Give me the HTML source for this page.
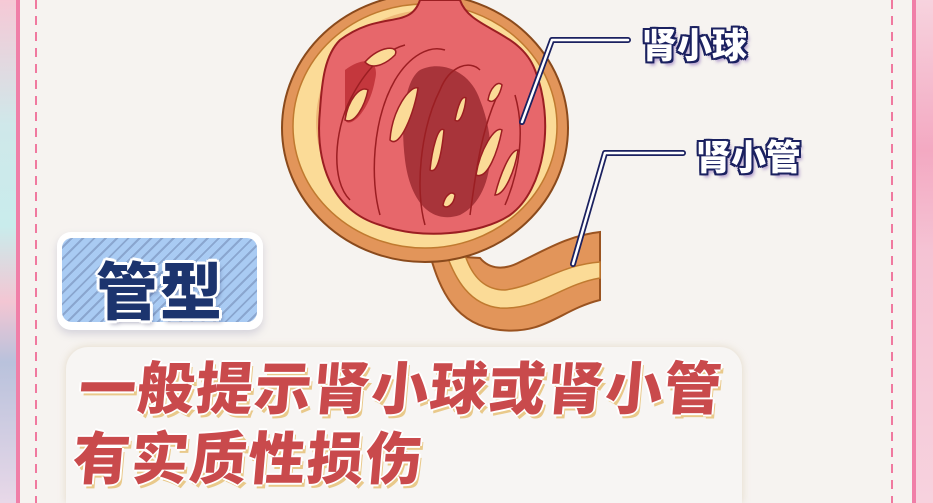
<!DOCTYPE html>
<html style="overflow:hidden;height:503px"><head><meta charset="utf-8"><style>
*{margin:0;padding:0}
body{width:933px;height:503px;overflow:hidden;background:#f6f3f0;position:relative;font-family:"Liberation Sans","Noto Sans CJK SC",sans-serif}
.ls{position:absolute;left:0;top:0;width:16px;height:503px;background:linear-gradient(180deg,#f6c9d6 0%,#cfe8ea 25%,#c9ecec 45%,#f3c6d3 60%,#b9c2dc 72%,#e8d8e8 100%)}
.lb{position:absolute;left:16px;top:0;width:4px;height:503px;background:#f07fa8}
.rs{position:absolute;left:916px;top:0;width:17px;height:503px;background:linear-gradient(180deg,#f7d3de 0%,#f3a9c2 30%,#f5c3d4 50%,#f7d2de 100%)}
.rb{position:absolute;left:912px;top:0;width:4px;height:503px;background:#f07fa8}
.dl{position:absolute;top:0;width:2px;height:503px;background:repeating-linear-gradient(180deg,#f0799f 0 9px,transparent 9px 16px)}
.badge{position:absolute;left:57px;top:232px;width:206px;height:98px;background:#fff;border-radius:14px;box-shadow:0 4px 8px rgba(120,120,160,.25)}
.badge .in{position:absolute;left:5px;top:6px;width:195px;height:84px;border-radius:10px;background:repeating-linear-gradient(135deg,#a9cbf3 0 6px,#8aa6cf 6px 8px)}
.badge .t{position:absolute;left:0;top:10px;width:206px;text-align:center;font-size:62px;font-weight:900;color:#1c346e;text-shadow:3px 0 #fff,-3px 0 #fff,0 3px #fff,0 -3px #fff,2px 2px #fff,-2px -2px #fff,2px -2px #fff,-2px 2px #fff,3px 4px 4px rgba(0,0,60,.3);letter-spacing:2px}
.box{position:absolute;left:66px;top:347px;width:676px;height:156px;background:#f7f5f3;border-radius:22px 22px 0 0;box-shadow:0 0 8px rgba(200,180,140,.4)}
.txt{position:absolute;left:76px;top:355px;font-size:57px;font-weight:900;color:#c94a4c;line-height:70px;letter-spacing:1.5px;white-space:nowrap;transform:skewX(-5deg);text-shadow:2px 0 #fff,-2px 0 #fff,0 2px #fff,0 -2px #fff,3px 4px 0 #e9c98a}
.lab{position:absolute;font-size:35px;font-weight:900;color:#fff;white-space:nowrap;text-shadow:2px 0 #1b2160,-2px 0 #1b2160,0 2px #1b2160,0 -2px #1b2160,2px 2px #1b2160,-2px -2px #1b2160,2px -2px #1b2160,-2px 2px #1b2160,3px 4px 3px rgba(110,70,170,.5)}
</style></head><body>
<div class="ls"></div><div class="lb"></div><div class="rs"></div><div class="rb"></div>
<div class="dl" style="left:35px"></div><div class="dl" style="left:891px"></div>
<svg style="position:absolute;left:0;top:0" width="933" height="503">
<path d="M430,255 C440,290 455,325 500,330 C545,335 560,310 600,300 L600,232 C570,235 545,250 520,262 C505,270 490,270 480,258 Z" fill="#e2955a" stroke="#9a5320" stroke-width="2"/>
<path d="M445,250 C455,280 470,305 500,308 C540,310 560,285 600,278 L600,262 C560,265 540,285 505,290 C480,290 470,270 465,255 Z" fill="#fbdb97" stroke="#c07a30" stroke-width="1.5"/>
<ellipse cx="425" cy="128" rx="143" ry="134" fill="#e2955a" stroke="#8a4a1c" stroke-width="2"/>
<ellipse cx="425" cy="126" rx="132" ry="122" fill="#fbdb97" stroke="#c07a30" stroke-width="1.5"/>
<ellipse cx="428" cy="122" rx="112" ry="112" fill="#e2955a" opacity=".5"/>
<path d="M340,40 C380,10 410,30 420,0 L460,0 C470,30 520,30 535,70 C555,120 545,190 510,215 C480,235 420,240 380,225 C330,210 315,160 320,110 C322,80 325,55 340,40 Z" fill="#e7676b" stroke="#9b1e22" stroke-width="2"/>
<path d="M420,70 C440,60 470,70 480,100 C500,150 490,200 460,215 C430,225 410,200 405,160 C400,120 405,80 420,70 Z" fill="#a8343a"/>
<path d="M345,70 C365,55 380,60 375,80 C370,110 350,130 345,120 Z" fill="#c4373d"/>
<g fill="none" stroke="#9b1e22" stroke-width="1.5">
<path d="M350,200 C330,180 335,130 350,100 C365,70 385,50 405,45"/>
<path d="M380,215 C370,180 372,120 395,80 C410,55 430,45 445,50"/>
<path d="M425,225 C415,190 420,130 440,90 C450,65 470,60 480,70"/>
<path d="M470,215 C475,180 480,130 500,90"/>
<path d="M505,205 C520,170 525,130 515,95"/>
</g>
<g fill="#fbdb97" stroke="#9b1e22" stroke-width="1.5">
<path d="M365,62 C380,45 400,45 395,55 C385,65 372,70 365,62Z"/>
<path d="M345,120 C348,100 360,85 368,90 C365,105 355,125 345,120Z"/>
<path d="M390,140 C392,110 410,85 418,88 C415,110 400,150 390,140Z"/>
<path d="M430,170 C432,150 438,125 444,130 C442,150 438,175 430,170Z"/>
<path d="M476,175 C480,150 495,125 502,130 C498,150 488,180 476,175Z"/>
<path d="M495,195 C500,175 510,150 518,150 C515,170 505,195 495,195Z"/>
<path d="M443,205 C445,195 452,190 455,195 C454,205 446,210 443,205Z"/>
<path d="M488,100 C490,88 498,80 502,85 C500,95 494,105 488,100Z"/>
<path d="M455,120 C458,105 462,95 466,98 C465,110 460,125 455,120Z"/>
</g>
<path d="M522,122 L552,40 L628,40" fill="none" stroke="#1b2160" stroke-width="6" stroke-linecap="round" stroke-linejoin="round"/>
<path d="M522,122 L552,40 L628,40" fill="none" stroke="#fff" stroke-width="2.5" stroke-linecap="round" stroke-linejoin="round"/>
<path d="M573,264 L605,153 L683,153" fill="none" stroke="#1b2160" stroke-width="6" stroke-linecap="round" stroke-linejoin="round"/>
<path d="M573,264 L605,153 L683,153" fill="none" stroke="#fff" stroke-width="2.5" stroke-linecap="round" stroke-linejoin="round"/>
</svg>
<div class="lab" style="left:642px;top:18px">肾小球</div>
<div class="lab" style="left:696px;top:130px">肾小管</div>
<div class="badge"><div class="in"></div><div class="t">管型</div></div>
<div class="box"></div>
<div class="txt">一般提示肾小球或肾小管<br>有实质性损伤</div>
</body></html>
